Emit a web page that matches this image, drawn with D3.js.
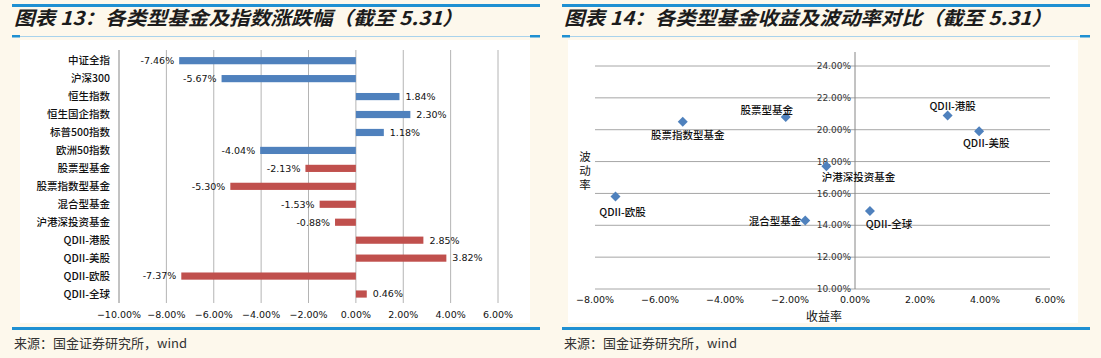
<html>
<head>
<meta charset="utf-8">
<script src="https://d3js.org/d3.v7.min.js"></script>
<style>
    body { margin: 0; background: #fdf8ec; }
    svg { display: block; }
    text { font-family: "DejaVu Sans", sans-serif; }
    .cjk { font-family: "Noto Sans CJK SC", sans-serif; }
</style>
</head>
<body>
<svg id="the-chart" width="1101" height="358"></svg>
<script>
    // 图表13 data
    var barCats = ['中证全指', '沪深300', '恒生指数', '恒生国企指数', '标普500指数', '欧洲50指数',
        '股票型基金', '股票指数型基金', '混合型基金', '沪港深投资基金',
        'QDII-港股', 'QDII-美股', 'QDII-欧股', 'QDII-全球'];
    var barVals = [-7.46, -5.67, 1.84, 2.30, 1.18, -4.04, -2.13, -5.30, -1.53, -0.88, 2.85, 3.82, -7.37, 0.46];
    var barKind = ['index', 'index', 'index', 'index', 'index', 'index',
        'fund', 'fund', 'fund', 'fund', 'fund', 'fund', 'fund', 'fund'];
    var barTicks = [-10, -8, -6, -4, -2, 0, 2, 4, 6];

    // 图表14 data
    var fundNames = ['股票指数型基金', '股票型基金', '沪港深投资基金', 'QDII-港股', 'QDII-美股', 'QDII-欧股', '混合型基金', 'QDII-全球'];
    var fundReturn = [-5.30, -2.13, -0.88, 2.85, 3.82, -7.37, -1.53, 0.46];
    var fundVol = [20.5, 20.8, 17.7, 20.9, 19.9, 15.8, 14.3, 14.9];
    var scatterXTicks = [-8, -6, -4, -2, 0, 2, 4, 6];
    var scatterYTicks = [10, 12, 14, 16, 18, 20, 22, 24];

    // where each point label sits relative to its marker
    var labelPlace = {
        '股票指数型基金': [5, 14, 'middle'],
        '股票型基金': [-19, -7, 'middle'],
        '沪港深投资基金': [32, 11, 'middle'],
        'QDII-港股': [5, -9, 'middle'],
        'QDII-美股': [7, 12, 'middle'],
        'QDII-欧股': [7, 16, 'middle'],
        '混合型基金': [-4, 1, 'end'],
        'QDII-全球': [19, 13, 'middle']
    };

    var blue = '#4f81bd', red = '#c0504d', lineBlue = '#1f90d2';
    var fmt = function(d) { return (d < 0 ? '\u2212' : '') + Math.abs(d).toFixed(2) + '%'; };
    var lblFmt = function(d) { return (d < 0 ? '-' : '') + Math.abs(d).toFixed(2) + '%'; };

    var svg = d3.select('#the-chart');
    svg.append('rect').attr('width', 1101).attr('height', 358).attr('fill', '#fdf8ec');

    // frame pieces: top rule, title, thin rule, white area, bottom rule, source
    function frame(x0, x1, title, titleLen, white) {
        svg.append('rect').attr('x', x0).attr('y', 4).attr('width', x1 - x0).attr('height', 3).attr('fill', lineBlue);
        svg.append('text').attr('class', 'cjk')
            .attr('x', x0 + 2).attr('y', 25)
            .attr('textLength', titleLen).attr('lengthAdjust', 'spacingAndGlyphs')
            .style('font-size', '19px').style('font-weight', 'bold').style('font-style', 'italic')
            .attr('fill', '#1c1c1c')
            .text(title);
        svg.append('line').attr('x1', x0).attr('x2', x1).attr('y1', 36.5).attr('y2', 36.5)
            .attr('stroke', '#a9d3ec').attr('stroke-width', 1);
        svg.append('rect').attr('x', x0).attr('y', 35).attr('width', 8).attr('height', 2.5).attr('fill', lineBlue);
        svg.append('rect').attr('x', x1 - 10).attr('y', 35).attr('width', 10).attr('height', 2.5).attr('fill', lineBlue);
        svg.append('rect').attr('x', white[0]).attr('y', 40).attr('width', white[1] - white[0]).attr('height', 283).attr('fill', '#fff');
        svg.append('rect').attr('x', x0).attr('y', 327).attr('width', x1 - x0).attr('height', 3).attr('fill', lineBlue);
        svg.append('text').attr('class', 'cjk')
            .attr('x', x0 + 2).attr('y', 348)
            .style('font-size', '13px').attr('fill', '#333')
            .text('来源：国金证券研究所，wind');
    }

    frame(12, 540, '图表 13：各类型基金及指数涨跌幅（截至 5.31）', 449, [20, 530]);
    frame(562, 1090, '图表 14：各类型基金收益及波动率对比（截至 5.31）', 488, [568, 1078]);

    // ---------- bar chart ----------
    var x = d3.scaleLinear().domain([-10, 6]).range([119, 498]);
    var y = d3.scaleBand().domain(barCats).range([51.7, 303]).paddingInner(0.6).paddingOuter(0.3);

    var g1 = svg.append('g');
    g1.selectAll('.grid').data(barTicks.slice(1)).enter()
        .append('line')
        .attr('x1', function(d) { return x(d); }).attr('x2', function(d) { return x(d); })
        .attr('y1', 50).attr('y2', 303)
        .attr('stroke', '#b4b4b4').attr('stroke-width', 1);
    g1.append('line').attr('x1', x(-10)).attr('x2', x(-10)).attr('y1', 50).attr('y2', 303)
        .attr('stroke', '#868686');

    g1.selectAll('.tick-lbl').data(barTicks).enter()
        .append('text')
        .attr('x', function(d) { return x(d); }).attr('y', 318)
        .attr('text-anchor', 'middle')
        .style('font-size', '9.5px').attr('fill', '#111')
        .text(fmt);

    g1.selectAll('.cat').data(barCats).enter()
        .append('text').attr('class', 'cjk')
        .attr('x', 110).attr('y', function(d) { return y(d) + y.bandwidth() / 2; })
        .attr('dy', '0.35em').attr('text-anchor', 'end')
        .style('font-size', '10.5px').style('font-weight', 500).attr('fill', '#111')
        .text(function(d) { return d; });

    g1.selectAll('.bar').data(barVals).enter()
        .append('rect')
        .attr('x', function(d) { return x(Math.min(0, d)); })
        .attr('y', function(d, i) { return y(barCats[i]); })
        .attr('width', function(d) { return Math.abs(x(d) - x(0)); })
        .attr('height', y.bandwidth())
        .attr('fill', function(d, i) { return barKind[i] == 'index' ? blue : red; });

    g1.selectAll('.val').data(barVals).enter()
        .append('text')
        .attr('x', function(d) { return d < 0 ? x(d) - 5 : x(d) + 6; })
        .attr('y', function(d, i) { return y(barCats[i]) + y.bandwidth() / 2; })
        .attr('dy', '0.35em')
        .attr('text-anchor', function(d) { return d < 0 ? 'end' : 'start'; })
        .style('font-size', '9.5px').attr('fill', '#111')
        .text(lblFmt);

    // ---------- scatter ----------
    var sx = d3.scaleLinear().domain([-8, 6]).range([595, 1050]);
    var sy = d3.scaleLinear().domain([10, 24]).range([289, 66]);

    var g2 = svg.append('g');
    g2.selectAll('.hgrid').data(scatterYTicks).enter()
        .append('line')
        .attr('x1', sx(-8)).attr('x2', sx(6))
        .attr('y1', function(d) { return sy(d); }).attr('y2', function(d) { return sy(d); })
        .attr('stroke', '#a6a6a6');
    g2.append('line').attr('x1', sx(0)).attr('x2', sx(0)).attr('y1', 52).attr('y2', sy(10))
        .attr('stroke', '#868686');

    g2.selectAll('.ylbl').data(scatterYTicks).enter()
        .append('text')
        .attr('x', sx(0) - 4).attr('y', function(d) { return sy(d); })
        .attr('dy', '0.35em').attr('text-anchor', 'end')
        .style('font-size', '9px').attr('fill', '#333')
        .text(fmt);
    g2.selectAll('.xlbl').data(scatterXTicks).enter()
        .append('text')
        .attr('x', function(d) { return sx(d); }).attr('y', 303)
        .attr('text-anchor', 'middle')
        .style('font-size', '9.5px').attr('fill', '#111')
        .text(fmt);

    // vertical axis title, one character per line
    g2.append('text').attr('class', 'cjk')
        .attr('x', 585).attr('y', 161)
        .attr('text-anchor', 'middle')
        .style('font-size', '11.5px').attr('fill', '#111')
        .selectAll('tspan').data(['波', '动', '率']).enter()
        .append('tspan')
        .attr('x', 585).attr('dy', function(d, i) { return i == 0 ? 0 : 14; })
        .text(function(d) { return d; });
    g2.append('text').attr('class', 'cjk')
        .attr('x', 824).attr('y', 321).attr('text-anchor', 'middle')
        .style('font-size', '12px').attr('fill', '#111')
        .text('收益率');

    var diamond = d3.symbol().type(d3.symbolSquare).size(50);
    g2.selectAll('.pt').data(fundNames).enter()
        .append('path')
        .attr('d', diamond)
        .attr('transform', function(d, i) { return 'translate(' + sx(fundReturn[i]) + ',' + sy(fundVol[i]) + ') rotate(45)'; })
        .attr('fill', blue);

    g2.selectAll('.plbl').data(fundNames).enter()
        .append('text').attr('class', 'cjk')
        .attr('x', function(d, i) { return sx(fundReturn[i]) + labelPlace[d][0]; })
        .attr('y', function(d, i) { return sy(fundVol[i]) + labelPlace[d][1]; })
        .attr('dy', '0.35em')
        .attr('text-anchor', function(d) { return labelPlace[d][2]; })
        .style('font-size', '10.5px').style('font-weight', 500).attr('fill', '#111')
        .text(function(d) { return d; });
</script>
</body>
</html>
